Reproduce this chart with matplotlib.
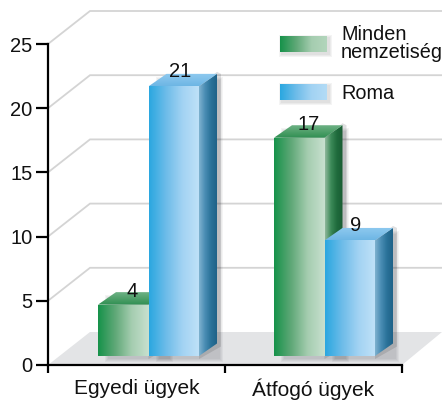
import numpy as np
import matplotlib
matplotlib.use("Agg")
import matplotlib.pyplot as plt
from matplotlib.colors import LinearSegmentedColormap as LSC
from matplotlib.patches import Polygon

plt.rcParams['font.family'] = ['Liberation Sans', 'DejaVu Sans']

categories = ["Egyedi ügyek", "Átfogó ügyek"]
series_names = ["Minden\nnemzetiség", "Roma"]
minden = [4, 17]
roma = [21, 9]
yticks = [0, 5, 10, 15, 20, 25]

W, H = 442, 401
L, R, B, T = 48, 402, 365, 44
fig = plt.figure(figsize=(W/100, H/100), dpi=100)
ax = fig.add_axes([L/W, 1-B/H, (R-L)/W, (B-T)/H])
ax.set_xlim(0, 2)
ax.set_ylim(0, 25)
px = 2/(R-L)           # x data units per pixel
py = 25/(B-T)          # y data units per pixel

GREEN = ['#16924a', '#5fa877', '#a5cdb0', '#c8e0cf']
BLUE = ['#2aa7e0', '#6dbce9', '#a3d3f3', '#c0e2f8']
G_SIDE = ['#8fb89c', '#3c8a58', '#1f6b3c', '#1a5c34']
B_SIDE = ['#7fb2d0', '#4a8db4', '#2a7299', '#1f6288']
G_TOP = ['#2f8f52', '#4fa06a', '#6fb286']
B_TOP = ['#6db6e4', '#7fc0ea', '#8fcaf0']


def grad(verts, colors, horizontal=True, z=3):
    verts = np.array(verts)
    x0, x1 = verts[:, 0].min(), verts[:, 0].max()
    y0, y1 = verts[:, 1].min(), verts[:, 1].max()
    g = np.linspace(0, 1, 128)
    g = g[None, :] if horizontal else g[:, None]
    im = ax.imshow(g, cmap=LSC.from_list('c', colors), extent=[x0, x1, y0, y1],
                   origin='lower', aspect='auto', zorder=z, interpolation='bilinear')
    clip = Polygon(verts, closed=True, transform=ax.transData)
    im.set_clip_path(clip)
    im.set_clip_box(fig.bbox)


def shadow(x0, x1, y0, y1, z, n=5, alpha=0.05):
    for i in range(n, 0, -1):
        a, b = i*px, i*py
        ax.fill([x0+2*px-a, x1+2*px+a, x1+2*px+a, x0+2*px-a],
                [y0-2*py-b, y0-2*py-b, y1-2*py+b, y1-2*py+b],
                color='#303038', alpha=alpha, lw=0, zorder=z, clip_on=False)


def bar3d(x0, val, width, base, dx, dy, front, side, top, z):
    x1 = x0 + width
    y1 = val + base
    ax.fill([x1, x1+dx+4*px, x1+dx+4*px, x1+dx, x1], [base-3*py, base+dy-3*py, y1+dy, y1+dy+2*py, y1],
            color='#303038', alpha=0.15, lw=0, zorder=z-0.5, clip_on=False)
    shadow(x0+dx*0.5, x1+dx, base, y1+dy*0.6, z-0.5, 4, 0.05)
    grad([(x1, base), (x1+dx, base+dy), (x1+dx, y1+dy), (x1, y1)], side, True, z)
    grad([(x0, y1), (x1, y1), (x1+dx, y1+dy), (x0+dx, y1+dy)], top, False, z)
    grad([(x0, base), (x1, base), (x1, y1), (x0, y1)], front, True, z+0.1)


# wall gridlines and floor
wx, wy = 42*px, 33*py
ax.fill([0, wx, 2+40*px, 2], [0, wy, wy, 0], color='#e3e4e6', lw=0, zorder=1, clip_on=False)
for t in yticks[1:]:
    ax.plot([0, wx, 2+40*px], [t, t+wy, t+wy], color='#d4d4d4', lw=1.3, zorder=1.5,
            clip_on=False, solid_joinstyle='miter')

# bars
bw = 50.5*px
base = 9*py
dx, dy = 18*px, 12.5*py
lefts = [(98-L)*px, (274-L)*px]
for i in range(2):
    x0 = lefts[i]
    z = 3 + i*2
    bar3d(x0, minden[i], bw, base, dx, dy, GREEN, G_SIDE, G_TOP, z)
    bar3d(x0+bw, roma[i], bw, base, dx, dy, BLUE, B_SIDE, B_TOP, z+1)
    ax.text(x0+bw/2+9*px, minden[i]+base+13*py, str(minden[i]), ha='center', va='center',
            fontsize=14.5, color='#111111', zorder=10, clip_on=False)
    ax.text(x0+1.5*bw+6*px, roma[i]+base+15*py, str(roma[i]), ha='center', va='center',
            fontsize=14.5, color='#111111', zorder=10, clip_on=False)

# legend
lx0, lx1 = (280-L)*px, (327-L)*px
for (top_px, colors, name, ty, ) in [(36, GREEN[:-1] + ['#b4d6bd'], series_names[0], 43.5),
                                     (84, BLUE[:-1] + ['#b4dcf6'], series_names[1], 93)]:
    y1 = (B-top_px)*py
    y0 = (B-top_px-16)*py
    shadow(lx0, lx1, y0, y1, 8, 3, 0.05)
    grad([(lx0, y0), (lx1, y0), (lx1, y1), (lx0, y1)], colors, True, 9)
    ax.text((341-L)*px, (B-ty)*py, name, ha='left', va='center', fontsize=14.3,
            linespacing=0.93, color='#111111', clip_on=False, zorder=10)

ax.set_xlim(0, 2)
ax.set_ylim(0, 25)

# axes
for s in ('top', 'right'):
    ax.spines[s].set_visible(False)
for s in ('left', 'bottom'):
    ax.spines[s].set_linewidth(1.6)
    ax.spines[s].set_zorder(12)
ax.patch.set_visible(False)
ax.set_yticks(yticks)
ax.set_xticks([0, 1, 2])
ax.set_xticklabels([])
ax.set_xticks([0.5, 1.5], minor=True)
labels = ax.set_xticklabels(categories, minor=True, fontsize=15, color='#111111')
ax.tick_params(axis='x', which='minor', length=0, pad=10)
ax.tick_params(axis='x', which='major', length=6, width=1.6, direction='out')
ax.tick_params(axis='y', length=9, width=1.6, labelsize=14.5, pad=2, labelcolor='#111111')
ax.set_axisbelow(False)

fig.savefig('out.png', dpi=100, facecolor='white')
